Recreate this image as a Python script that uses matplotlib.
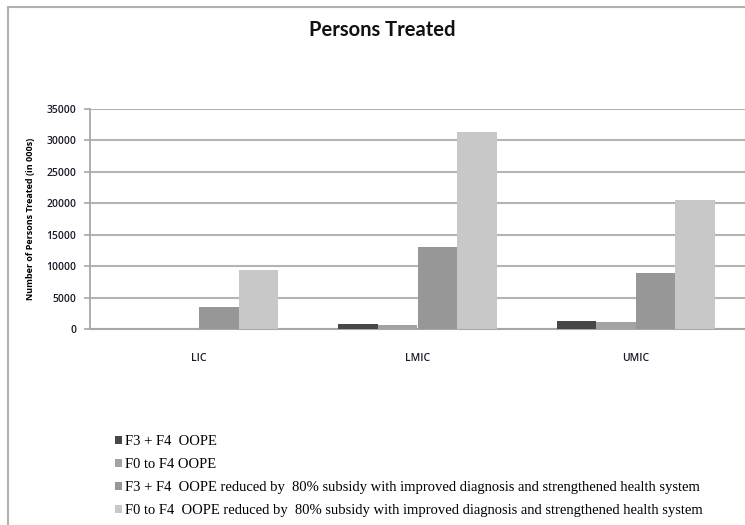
import numpy as np
import matplotlib
matplotlib.use("Agg")
import matplotlib.pyplot as plt
from matplotlib.patches import Rectangle

# data (in 000s)
categories = ["LIC", "LMIC", "UMIC"]
f3f4_oope = [0, 800, 1270]
f0f4_oope = [0, 650, 1150]
f3f4_subsidy = [3500, 13050, 8900]
f0f4_subsidy = [9400, 31370, 20540]

series_labels = [
    "F3 + F4  OOPE",
    "F0 to F4 OOPE",
    "F3 + F4  OOPE reduced by  80% subsidy with improved diagnosis and strengthened health system",
    "F0 to F4  OOPE reduced by  80% subsidy with improved diagnosis and strengthened health system",
]
series = [f3f4_oope, f0f4_oope, f3f4_subsidy, f0f4_subsidy]
colors = ["#474747", "#a3a3a3", "#979797", "#c8c8c8"]

fig = plt.figure(figsize=(7.45, 5.25), dpi=100)
ax = fig.add_axes([90/745, 1 - 329/525, 1 - 90/745, (329 - 109)/525])

x = np.arange(len(categories))
w = 0.181
handles = []
for i, (vals, col) in enumerate(zip(series, colors)):
    b = ax.bar(x + (i - 1.5) * w, vals, width=w, color=col, zorder=3)
    handles.append(b)

ax.set_xlim(-0.5, 2.5)
ax.set_ylim(0, 35000)
ax.set_yticks(np.arange(0, 35001, 5000))
ax.set_xticks(x)
ax.set_xticklabels(categories)
ax.yaxis.grid(True, color="#b4b4b4", lw=1.5, zorder=0)
for s in ["top", "right"]:
    ax.spines[s].set_visible(False)
ax.spines["left"].set_color("#a8a8a8")
ax.spines["bottom"].set_color("#a8a8a8")
ax.spines["left"].set_linewidth(1.3)
ax.spines["bottom"].set_linewidth(1.5)
ax.tick_params(axis="y", length=4, color="#a8a8a8", width=1.2, pad=6)
ax.tick_params(axis="x", length=0, pad=17)
for lab in ax.get_yticklabels() + ax.get_xticklabels():
    lab.set_fontfamily("Open Sans")
    lab.set_fontsize(7.5)
    lab.set_fontweight("semibold")
    lab.set_color("#1a1a2a")

ax.set_ylabel("Number of Persons Treated (in 000s)", fontfamily="Open Sans",
              fontsize=6.5, fontweight="bold", labelpad=8)

fig.text(382/745, 1 - 30/525, "Persons Treated", ha="center", va="center",
         fontfamily="Lato", fontsize=14.5, fontweight="bold", color="#111111")

fig.legend(handles, series_labels, loc="upper left", bbox_to_anchor=(102/745, 1 - 422/525),
           frameon=False, prop={"family": "Liberation Serif", "size": 10.5},
           handlelength=0.45, handleheight=0.45, handletextpad=0.2, labelspacing=0.68)

# outer chart border
fig.patches.append(Rectangle((8/745, -0.1), 1.1, 1 - 7/525 + 0.1, transform=fig.transFigure,
                             fill=False, edgecolor="#b0b0b0", lw=1.5))

fig.savefig("out.png", dpi=100)
